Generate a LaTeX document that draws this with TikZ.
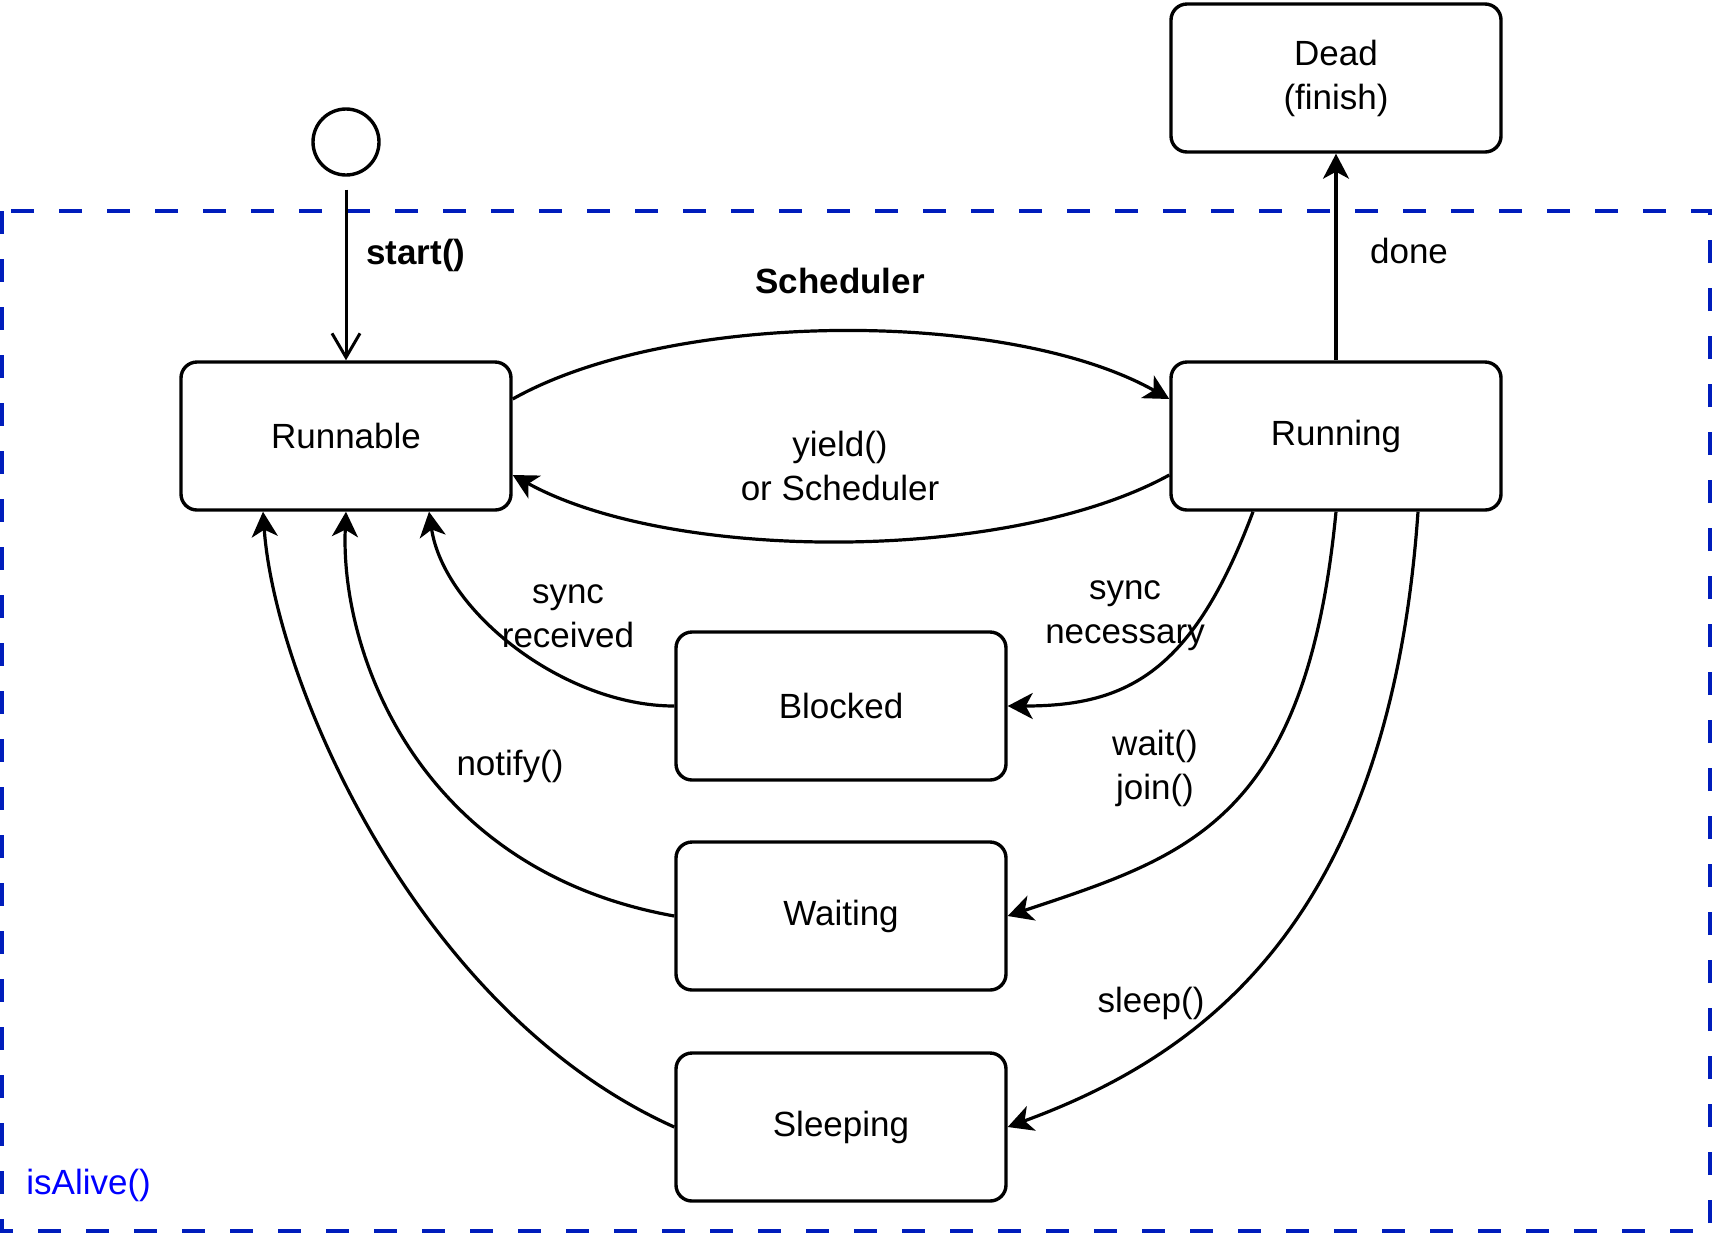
\documentclass[tikz,border=0pt]{standalone}
\usepackage{fontspec}
\setmainfont{Liberation Sans}
\usepackage{tikz}
\usetikzlibrary{arrows.meta}
\definecolor{alivedash}{RGB}{0,29,188}
\definecolor{alivetext}{RGB}{0,0,255}

\tikzset{
 state/.style={draw, rounded corners=8pt, line width=1.7pt, minimum width=165pt, minimum height=74pt, align=center},
 trans/.style={line width=1.6pt, -{Stealth[length=12.5pt,width=13pt,inset=3.5pt]}},
 lbl/.style={align=center, inner sep=0pt}
}

\begin{document}
\begin{tikzpicture}[x=0.5pt,y=-0.5pt,font=\fontsize{17.5}{22}\selectfont]
 \useasboundingbox (0,0) rectangle (1713,1233);
 \draw[alivedash, line width=1.7pt, dash pattern=on 11.5pt off 12.5pt] (2,211) rectangle (1710,1231);
 \node[lbl, anchor=west, text=alivetext] (alive) at (26,1185) {isAlive()};

 \node[draw, circle, line width=1.7pt, minimum size=33pt, inner sep=0pt] (init) at (346,142) {};
 \node[state] (runnable) at (346,436) {Runnable};
 \node[state] (running) at (1336,436) {Running};
 \node[state] (dead) at (1336,78) {Dead\\(finish)};
 \node[state] (blocked) at (841,706) {Blocked};
 \node[state] (waiting) at (841,916) {Waiting};
 \node[state] (sleeping) at (841,1127) {Sleeping};

 \draw[line width=1.5pt, -{Straight Barb[length=12pt,width=14pt,line width=1.5pt]}] ([yshift=-6.5pt]init.south) -- (runnable.north);
 \node[lbl, font=\fontsize{17.5}{22}\selectfont\bfseries] (lstart) at (416,255) {start()};

 \draw[trans] ([yshift=18.5pt]runnable.east) .. controls +(160,-90) and +(-160,-90) .. ([yshift=18.5pt]running.west);
 \node[lbl, font=\fontsize{17.5}{22}\selectfont\bfseries] (lsched) at (840,281) {Scheduler};
 \draw[trans] ([yshift=-19.5pt]running.west) .. controls +(-160,88) and +(160,88) .. ([yshift=-19.5pt]runnable.east);
 \node[lbl] (lyield) at (840,466) {yield()\\or Scheduler};

 \draw[trans] (running.north) -- (dead.south);
 \node[lbl] (ldone) at (1409,251) {done};

 %%%%%%%%%%%%%%%%%%%%%%%%%%%%%%%%%%%

 \draw[trans] ([xshift=-41.5pt]running.south) .. controls +(-60,160) and +(120,0) .. (blocked.east);
 \node[lbl] (lneed) at (1125,616) {sync\\necessary};
 \draw[trans] (running.south) .. controls +(-30,310) and +(180,-60) .. (waiting.east);
 \node[lbl] (lwait) at (1155,768) {wait()\\join()};
 \draw[trans] ([xshift=41pt]running.south) .. controls +(-28,400) and +(205,-75) .. (sleeping.east);
 \node[lbl] (lsleep) at (1151,1003) {sleep()};

 \draw[trans] (blocked.west) .. controls +(-110,0) and +(15,100) .. ([xshift=41.5pt]runnable.south);
 \node[lbl] (lrecv) at (568,616) {sync\\received};
 \draw[trans] (waiting.west) .. controls +(-257,-46) and +(-6,140) .. (runnable.south);
 \node[lbl] (lnotify) at (510,766) {notify()};
 \draw[trans] (sleeping.west) .. controls +(-257,-115) and +(12,170) .. ([xshift=-41.5pt]runnable.south);

\end{tikzpicture}
\end{document}
